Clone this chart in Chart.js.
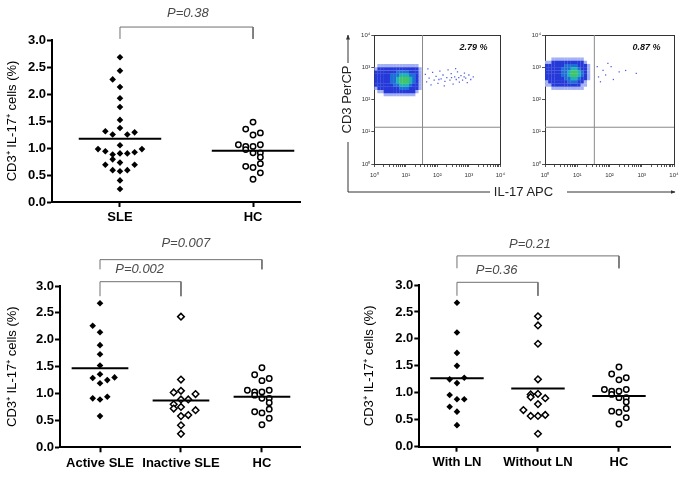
<!DOCTYPE html>
<html>
<head>
<meta charset="utf-8">
<script src="https://cdn.jsdelivr.net/npm/chart.js@4.4.1/dist/chart.umd.min.js"></script>
<style>
  body { margin: 0; background: #fff; }
  #page { position: relative; width: 685px; height: 477px; overflow: hidden; font-family: 'Liberation Sans', Arial, sans-serif; }
  canvas { position: absolute; }
  #il17 { position: absolute; left: 480px; top: 184px; width: 87px; text-align: center; font-size: 13px; line-height: 16px; color: #222; }
</style>
</head>
<body>
<div id="page">
  <canvas id="panelA" width="310" height="230" style="left:0;top:0"></canvas>
  <canvas id="flow1" width="175" height="160" style="left:335px;top:25px"></canvas>
  <canvas id="flow2" width="175" height="160" style="left:510px;top:25px"></canvas>
  <canvas id="panelB" width="310" height="247" style="left:0;top:230px"></canvas>
  <canvas id="panelC" width="325" height="247" style="left:360px;top:230px"></canvas>
  <svg width="685" height="477" style="position:absolute;left:0;top:0">
    <defs>
      <marker id="ah" viewBox="0 0 10 10" refX="9" refY="5" markerWidth="5" markerHeight="5" orient="auto">
        <path d="M0,1 L10,5 L0,9 z" fill="#333"/>
      </marker>
    </defs>
    <line x1="348" y1="63" x2="348" y2="35" stroke="#333" stroke-width="1" marker-end="url(#ah)"/>
    <polyline points="348,142 348,192 490,192" fill="none" stroke="#333" stroke-width="1"/>
    <line x1="567" y1="192" x2="675" y2="192" stroke="#333" stroke-width="1" marker-end="url(#ah)"/>
  </svg>
  <div id="il17">IL-17 APC</div>
</div>
<script>
Chart.defaults.font.family = "'Liberation Sans', Arial, sans-serif";
Chart.defaults.color = '#000';
Chart.defaults.animation = false;

// ---- dot plots: values, slots = sideways position of each marker
const yTickValues = [0, 0.5, 1.0, 1.5, 2.0, 2.5, 3.0];
const yTitle = 'CD3\u207A IL-17\u207A cells (%)';

const panelACats = ['SLE', 'HC'];
const sleValues = [2.68, 2.43, 2.27, 2.13, 1.92, 1.76, 1.52, 1.37, 1.31, 1.25, 1.25, 1.29, 1.05, 0.98, 0.94, 0.88, 0.90, 0.90, 0.92, 0.98, 0.79, 0.73, 0.69, 0.69, 0.59, 0.57, 0.59, 0.40, 0.24];
const sleSlots = [0, 0, -1, 0, 0, 0, 0, 0, -2, -1, 1, 2, 0, -3, -2, -1, 0, 1, 2, 3, -1, 0, -2, 2, -1, 0, 1, 0, 0];
const hcValues = [1.48, 1.35, 1.24, 1.28, 1.06, 1.03, 0.97, 1.03, 1.06, 0.91, 0.91, 0.83, 0.66, 0.64, 0.71, 0.54, 0.42];
const hcSlots = [0, -1, 0, 1, -2, -1, -1, 0, 1, 0, 1, 1, -1, 0, 1, 1, 0];
const panelAMeans = [1.17, 0.95];
const panelAPValues = ['P=0.38'];

const panelBCats = ['Active SLE', 'Inactive SLE', 'HC'];
const activeValues = [2.68, 2.26, 2.14, 1.90, 1.73, 1.52, 1.36, 1.29, 1.25, 1.30, 1.19, 0.91, 0.89, 0.94, 0.58];
const activeSlots = [0, -1, 0, 0, 0, 0, 0, -1, 1, 2, 0, -1, 0, 1, 0];
const inactiveValues = [2.43, 1.26, 1.02, 1.05, 0.99, 0.89, 0.89, 0.80, 0.72, 0.75, 0.69, 0.58, 0.60, 0.41, 0.25];
const inactiveSlots = [0, 0, -1, 0, 2, 0, 1, -1, -1, 0, 2, 0, 1, 0, 0];
const panelBMeans = [1.47, 0.87, 0.94];
const panelBPValues = ['P=0.007', 'P=0.002'];

const panelCCats = ['With LN', 'Without LN', 'HC'];
const withLnValues = [2.67, 2.12, 1.74, 1.50, 1.25, 1.28, 1.18, 0.96, 0.88, 0.88, 0.74, 0.65, 0.40];
const withLnSlots = [0, 0, 0, 0, -1, 1, 0, -1, 0, 1, -1, 0, 0];
const withoutLnValues = [2.42, 2.25, 1.91, 1.25, 0.97, 0.92, 0.98, 0.90, 0.79, 0.68, 0.57, 0.57, 0.59, 0.24];
const withoutLnSlots = [0, 0, 0, 0, -1, -1, 0, 1, 0, -2, -1, 0, 1, 0];
const panelCMeans = [1.27, 1.08, 0.94];
const panelCPValues = ['P=0.21', 'P=0.36'];

// ---- flow plots (axes in decades), density
const flowTickLabels = ['10\u2070', '10\u00B9', '10\u00B2', '10\u00B3', '10\u2074'];
const flowPercents = ['2.79 %', '0.87 %'];
const gateX = [1.53, 1.53];
const gateY = [1.14, 1.14];
const densityStep = 0.1;
const densityA = [
  '01111111111111000',
  '12222222222222100',
  '22222223333222100',
  '22222333444332100',
  '22222334555432100',
  '22222334555432100',
  '22222233444322100',
  '12222222333222100',
  '01122222222221000',
  '00011111111110000'
];
const densityAOrigin = [0.05, 3.05];
const densityB = [
  '0011111111110000',
  '1122222222221000',
  '2222223333222100',
  '2222233344322100',
  '2222233455432100',
  '2222233455432100',
  '2222223344322100',
  '1222222333221000',
  '1122222222211000',
  '0011111111110000'
];
const densityBOrigin = [0.05, 3.25];
const rareA = [[1.62,2.78],[1.66,2.55],[1.70,2.95],[1.74,2.66],[1.80,2.45],[1.85,2.84],[1.90,2.60],[1.96,2.72],[2.02,2.50],[2.08,2.88],[2.12,2.64],[2.18,2.76],[2.24,2.56],[2.30,2.68],[2.34,2.92],[2.40,2.60],[2.44,2.80],[2.50,2.48],[2.55,2.70],[2.60,2.62],[2.64,2.86],[2.70,2.54],[2.75,2.74],[2.80,2.60],[2.86,2.82],[2.90,2.66],[2.95,2.52],[3.00,2.76],[3.06,2.62],[3.14,2.70],[2.22,2.42],[2.58,2.96],[2.45,2.68],[2.68,2.68],[2.05,2.62],[2.85,2.70]];
const rareB = [[1.62,3.02],[1.66,2.70],[1.72,2.55],[1.80,2.90],[1.88,2.76],[2.05,3.02],[2.12,2.62],[2.30,2.86],[2.50,2.90],[2.83,2.81],[1.95,3.12]];

const markers = {
  filledDiamond: { pointStyle: 'rectRot', pointRadius: 3.3, backgroundColor: '#000', borderColor: '#000', pointBorderWidth: 0 },
  openDiamond: { pointStyle: 'rectRot', pointRadius: 3.3, backgroundColor: '#fff', borderColor: '#000', pointBorderWidth: 1.5 },
  openCircle: { pointStyle: 'circle', pointRadius: 2.7, backgroundColor: '#fff', borderColor: '#000', pointBorderWidth: 1.5 }
};

// draws text at data positions
const textLabels = {
  id: 'textLabels',
  afterDatasetsDraw(chart, args, opts) {
    const { ctx, scales: { x, y } } = chart;
    ctx.save();
    ctx.font = opts.font;
    ctx.fillStyle = opts.color;
    ctx.textAlign = 'center';
    ctx.textBaseline = 'middle';
    (opts.items || []).forEach(it => ctx.fillText(it.text, x.getPixelForValue(it.x), y.getPixelForValue(it.y)));
    ctx.restore();
  }
};

function makeDotPanel(id, p) {
  const datasets = [];
  p.means.forEach((m, i) => datasets.push({
    data: [{ x: i - p.meanHalf, y: m }, { x: i + p.meanHalf, y: m }],
    showLine: true, borderColor: '#000', borderWidth: 2, pointRadius: 0
  }));
  p.groups.forEach((g, i) => datasets.push(Object.assign({
    data: g.values.map((v, k) => ({ x: i + g.slots[k] * p.slotW, y: v }))
  }, markers[g.marker])));
  p.brackets.forEach(b => datasets.push({
    data: [{ x: b.from, y: b.leg }, { x: b.from, y: b.top }, { x: b.to, y: b.top }, { x: b.to, y: b.leg }],
    showLine: true, borderColor: '#707070', borderWidth: 1, pointRadius: 0, clip: false
  }));

  new Chart(document.getElementById(id), {
    type: 'scatter',
    data: { datasets },
    plugins: [textLabels],
    options: {
      responsive: false,
      events: [],
      layout: { padding: { left: 0, top: p.padTop, right: p.padRight, bottom: 0 } },
      plugins: {
        legend: { display: false },
        tooltip: { enabled: false },
        textLabels: { font: "italic 13px 'Liberation Sans', Arial, sans-serif", color: '#4a4a4a', items: p.labels }
      },
      scales: {
        x: {
          type: 'linear', min: p.xMin, max: p.xMax,
          afterBuildTicks: s => { s.ticks = p.cats.map((c, i) => ({ value: i })); },
          ticks: { callback: v => p.cats[v], font: { size: 13, weight: 'bold' }, color: '#000', padding: 3, autoSkip: false, maxRotation: 0 },
          grid: { drawOnChartArea: false, tickLength: 5, tickWidth: 2, color: '#000' },
          border: { color: '#000', width: 2 },
          afterFit: s => { s.height = p.xAxisH; }
        },
        y: {
          type: 'linear', min: 0, max: 3,
          afterBuildTicks: s => { s.ticks = yTickValues.map(v => ({ value: v })); },
          ticks: { callback: v => v.toFixed(1), font: { size: 13, weight: 'bold' }, color: '#000', padding: 1 },
          grid: { drawOnChartArea: false, tickLength: 5, tickWidth: 2, color: '#000' },
          border: { color: '#000', width: 2 },
          title: { display: true, text: yTitle, font: { size: 13 }, color: '#000', padding: { top: p.titlePad, bottom: 0 } },
          afterFit: s => { s.width = p.yAxisW; }
        }
      }
    }
  });
}

makeDotPanel('panelA', {
  cats: panelACats,
  groups: [{ values: sleValues, slots: sleSlots, marker: 'filledDiamond' }, { values: hcValues, slots: hcSlots, marker: 'openCircle' }],
  means: panelAMeans, meanHalf: 0.31, slotW: 0.055,
  xMin: -0.511, xMax: 1.353, yAxisW: 52, xAxisH: 28, padTop: 40, padRight: 10, titlePad: 5,
  brackets: [{ from: 0, to: 1, top: 3.24, leg: 3.02 }],
  labels: [{ text: panelAPValues[0], x: 0.51, y: 3.50 }]
});

makeDotPanel('panelB', {
  cats: panelBCats,
  groups: [{ values: activeValues, slots: activeSlots, marker: 'filledDiamond' }, { values: inactiveValues, slots: inactiveSlots, marker: 'openDiamond' }, { values: hcValues, slots: hcSlots, marker: 'openCircle' }],
  means: panelBMeans, meanHalf: 0.35, slotW: 0.09,
  xMin: -0.494, xMax: 2.47, yAxisW: 60, xAxisH: 29.7, padTop: 56, padRight: 10, titlePad: 5,
  brackets: [{ from: 0, to: 2, top: 3.49, leg: 3.31 }, { from: 0, to: 1, top: 3.08, leg: 2.81 }],
  labels: [{ text: panelBPValues[0], x: 1.06, y: 3.80 }, { text: panelBPValues[1], x: 0.49, y: 3.30 }]
});

makeDotPanel('panelC', {
  cats: panelCCats,
  groups: [{ values: withLnValues, slots: withLnSlots, marker: 'filledDiamond' }, { values: withoutLnValues, slots: withoutLnSlots, marker: 'openDiamond' }, { values: hcValues, slots: hcSlots, marker: 'openCircle' }],
  means: panelCMeans, meanHalf: 0.33, slotW: 0.09,
  xMin: -0.465, xMax: 2.63, yAxisW: 59.3, xAxisH: 30.3, padTop: 55, padRight: 15, titlePad: 2,
  brackets: [{ from: 0, to: 2, top: 3.54, leg: 3.31 }, { from: 0, to: 1, top: 3.05, leg: 2.80 }],
  labels: [{ text: panelCPValues[0], x: 0.90, y: 3.76 }, { text: panelCPValues[1], x: 0.49, y: 3.27 }]
});

// ---- flow cytometry plots
const densityColors = ['', '#a3b0f3', '#2538d8', '#1f6ed8', '#1fb2b6', '#40c46a'];
const flowXTicks = [];
for (let d = 0; d < 4; d++) for (let k = 1; k <= 9; k++) flowXTicks.push(d + Math.log10(k));
flowXTicks.push(4);
const isMajor = v => Math.abs(v - Math.round(v)) < 1e-6;

function cellsAt(rows, origin, level) {
  const pts = [];
  rows.forEach((row, r) => [...row].forEach((c, k) => {
    if (+c === level) pts.push({ x: origin[0] + k * densityStep, y: origin[1] - r * densityStep });
  }));
  return pts;
}

function makeFlowPanel(id, f) {
  const datasets = [];
  for (let lvl = 5; lvl >= 1; lvl--) {
    datasets.push({ data: cellsAt(f.rows, f.origin, lvl), pointStyle: 'rect', pointRadius: 2.4, pointBorderWidth: 0, backgroundColor: densityColors[lvl] });
  }
  datasets.push({ data: f.rare.map(p => ({ x: p[0], y: p[1] })), pointStyle: 'rect', pointRadius: 0.9, pointBorderWidth: 0, backgroundColor: '#5060e0' });
  datasets.push({ data: [{ x: f.gateX, y: 0 }, { x: f.gateX, y: 4 }], showLine: true, borderColor: '#8a8a8a', borderWidth: 1, pointRadius: 0 });
  datasets.push({ data: [{ x: 0, y: f.gateY }, { x: 4, y: f.gateY }], showLine: true, borderColor: '#8a8a8a', borderWidth: 1, pointRadius: 0 });

  const frame = { display: true, type: 'linear', min: 0, max: 4, ticks: { display: false }, grid: { display: false }, border: { color: '#333', width: 1 } };
  new Chart(document.getElementById(id), {
    type: 'scatter',
    data: { datasets },
    plugins: [textLabels],
    options: {
      responsive: false,
      events: [],
      layout: { padding: { left: 0, top: 10, right: f.padRight, bottom: 0 } },
      plugins: {
        legend: { display: false },
        tooltip: { enabled: false },
        textLabels: { font: "italic bold 9px 'Liberation Sans', Arial, sans-serif", color: '#111', items: [{ text: f.percent, x: 3.15, y: 3.62 }] }
      },
      scales: {
        x: {
          type: 'linear', min: 0, max: 4,
          afterBuildTicks: s => { s.ticks = flowXTicks.map(v => ({ value: v })); },
          ticks: { callback: v => isMajor(v) ? flowTickLabels[Math.round(v)] : '', font: { size: 6 }, color: '#333', padding: 5, autoSkip: false, maxRotation: 0 },
          grid: { drawOnChartArea: false, tickLength: 3, color: '#555' },
          border: { color: '#333', width: 1 },
          afterFit: s => { s.height = 21; }
        },
        y: {
          type: 'linear', min: 0, max: 4,
          afterBuildTicks: s => { s.ticks = flowTickLabels.map((t, i) => ({ value: i })); },
          ticks: { callback: v => flowTickLabels[v], font: { size: 6 }, color: '#333', padding: 1 },
          grid: { drawOnChartArea: false, tickLength: 3, color: '#555' },
          border: { color: '#333', width: 1 },
          title: { display: !!f.yTitle, text: f.yTitle || '', font: { size: 13 }, color: '#222', padding: { top: 5, bottom: 0 } },
          afterFit: s => { s.width = f.yAxisW; }
        },
        xTop: Object.assign({ position: 'top', afterFit: s => { s.height = 0; } }, frame),
        yRight: Object.assign({ position: 'right', afterFit: s => { s.width = 0; } }, frame)
      }
    }
  });
}

makeFlowPanel('flow1', { rows: densityA, origin: densityAOrigin, rare: rareA, gateX: gateX[0], gateY: gateY[0], percent: flowPercents[0], yTitle: 'CD3 PerCP', yAxisW: 39.3, padRight: 6 });
makeFlowPanel('flow2', { rows: densityB, origin: densityBOrigin, rare: rareB, gateX: gateX[1], gateY: gateY[1], percent: flowPercents[1], yAxisW: 35, padRight: 11 });
</script>
</body>
</html>
